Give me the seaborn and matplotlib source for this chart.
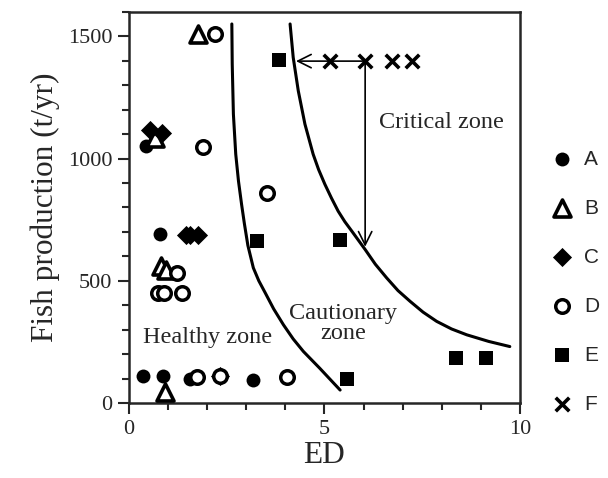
import pandas as pd
import seaborn as sns
import matplotlib.pyplot as plt
from matplotlib.ticker import MultipleLocator

# data (ED, fish production t/yr)
a_x = [0.43, 0.79, 0.36, 0.87, 1.56, 3.17]
a_y = [1051, 693, 111, 111, 99, 95]
b_x = [1.76, 0.66, 0.82, 0.95, 0.92]
b_y = [1508, 1083, 560, 545, 45]
c_x = [0.54, 0.84, 1.45, 1.56, 1.76, 2.33]
c_y = [1116, 1104, 686, 686, 686, 112]
d_x = [2.2, 1.89, 3.53, 1.23, 0.75, 0.9, 1.35, 1.74, 2.33, 4.04]
d_y = [1508, 1047, 859, 530, 450, 450, 450, 107, 112, 107]
e_x = [3.84, 3.27, 5.4, 5.58, 8.36, 9.13]
e_y = [1402, 662, 669, 99, 185, 185]
f_x = [5.14, 6.04, 6.72, 7.24]
f_y = [1399, 1399, 1399, 1399]

# zone boundaries
c1_x = [2.63, 2.64, 2.67, 2.70, 2.73, 2.80, 2.88, 2.95, 3.04, 3.18, 3.32, 3.48, 3.70, 3.95, 4.20, 4.46, 4.88, 5.40]
c1_y = [1551, 1387, 1182, 1100, 1018, 908, 812, 735, 645, 553, 500, 452, 385, 320, 262, 211, 142, 53]
c2_x = [4.12, 4.20, 4.33, 4.50, 4.71, 4.85, 5.01, 5.18, 5.35, 5.52, 5.70, 6.04, 6.30, 6.59, 6.88, 7.19, 7.52, 7.87, 8.25, 8.64, 9.20, 9.74]
c2_y = [1551, 1414, 1277, 1141, 1018, 955, 895, 838, 785, 742, 703, 628, 568, 512, 460, 416, 372, 334, 303, 279, 252, 231]

groups = ['A', 'B', 'C', 'D', 'E', 'F']
xs = [a_x, b_x, c_x, d_x, e_x, f_x]
ys = [a_y, b_y, c_y, d_y, e_y, f_y]

df = pd.concat([pd.DataFrame({'ED': x, 'prod': y, 'site': g}) for g, x, y in zip(groups, xs, ys)])

styles = {
    'A': dict(marker='o', s=100, facecolor='black', edgecolor='black', linewidth=0),
    'B': dict(marker='^', s=150, facecolor='white', edgecolor='black', linewidth=2.6),
    'C': dict(marker='D', s=95, facecolor='black', edgecolor='black', linewidth=0),
    'D': dict(marker='o', s=95, facecolor='white', edgecolor='black', linewidth=2.5),
    'E': dict(marker='s', s=100, facecolor='black', edgecolor='black', linewidth=0),
    'F': dict(marker='x', s=95, color='black', linewidth=2.6),
}

sns.set_style('ticks')
plt.rcParams['font.family'] = ['Liberation Serif', 'DejaVu Serif']

fig = plt.figure(figsize=(6.08, 4.78), dpi=100)
ax = fig.add_axes([0.2122, 0.1569, 0.643, 0.818])

sns.lineplot(x=c1_x, y=c1_y, sort=False, estimator=None, color='black', lw=2.2, ax=ax)
sns.lineplot(x=c2_x, y=c2_y, sort=False, estimator=None, color='black', lw=2.2, ax=ax)

for g in groups:
    sns.scatterplot(data=df[df['site'] == g], x='ED', y='prod', label=g, ax=ax, zorder=3, **styles[g])

# arrows from the F point
ax.annotate('', xy=(c2_x[1], f_y[1]), xytext=(f_x[1], f_y[1]),
            arrowprops=dict(arrowstyle='->', lw=1.2, color='black', mutation_scale=24))
ax.annotate('', xy=(f_x[1], 628), xytext=(f_x[1], f_y[1]),
            arrowprops=dict(arrowstyle='->', lw=1.2, color='black', mutation_scale=24))

ax.text(2.02, 267, 'Healthy zone', fontsize=17.5, ha='center', va='center')
ax.text(5.47, 324, 'Cautionary\nzone', fontsize=17.5, ha='center', va='center', linespacing=0.95)
ax.text(7.98, 1149, 'Critical zone', fontsize=17.5, ha='center', va='center')

ax.set_xlim(0, 10)
ax.set_ylim(0, 1600)
ax.set_xticks([0, 5, 10])
ax.set_yticks([0, 500, 1000, 1500])
ax.xaxis.set_minor_locator(MultipleLocator(1))
ax.yaxis.set_minor_locator(MultipleLocator(100))
ax.tick_params(which='major', length=8, width=1.5, labelsize=16, direction='out', pad=4)
ax.tick_params(which='minor', length=5, width=1.5, direction='out')
for sp in ax.spines.values():
    sp.set_linewidth(1.8)
    sp.set_visible(True)

ax.set_xlabel('ED', fontsize=22.5, labelpad=2)
ax.set_ylabel('Fish production (t/yr)', fontsize=22.5, labelpad=6)

ax.legend(loc='upper left', bbox_to_anchor=(0.908, 0.687), bbox_transform=fig.transFigure,
          frameon=False, borderpad=0, handlelength=1.0, handletextpad=0.55,
          labelspacing=1.44, borderaxespad=0, prop={'family': 'Liberation Sans', 'size': 15})

plt.savefig('out.png', dpi=100)
